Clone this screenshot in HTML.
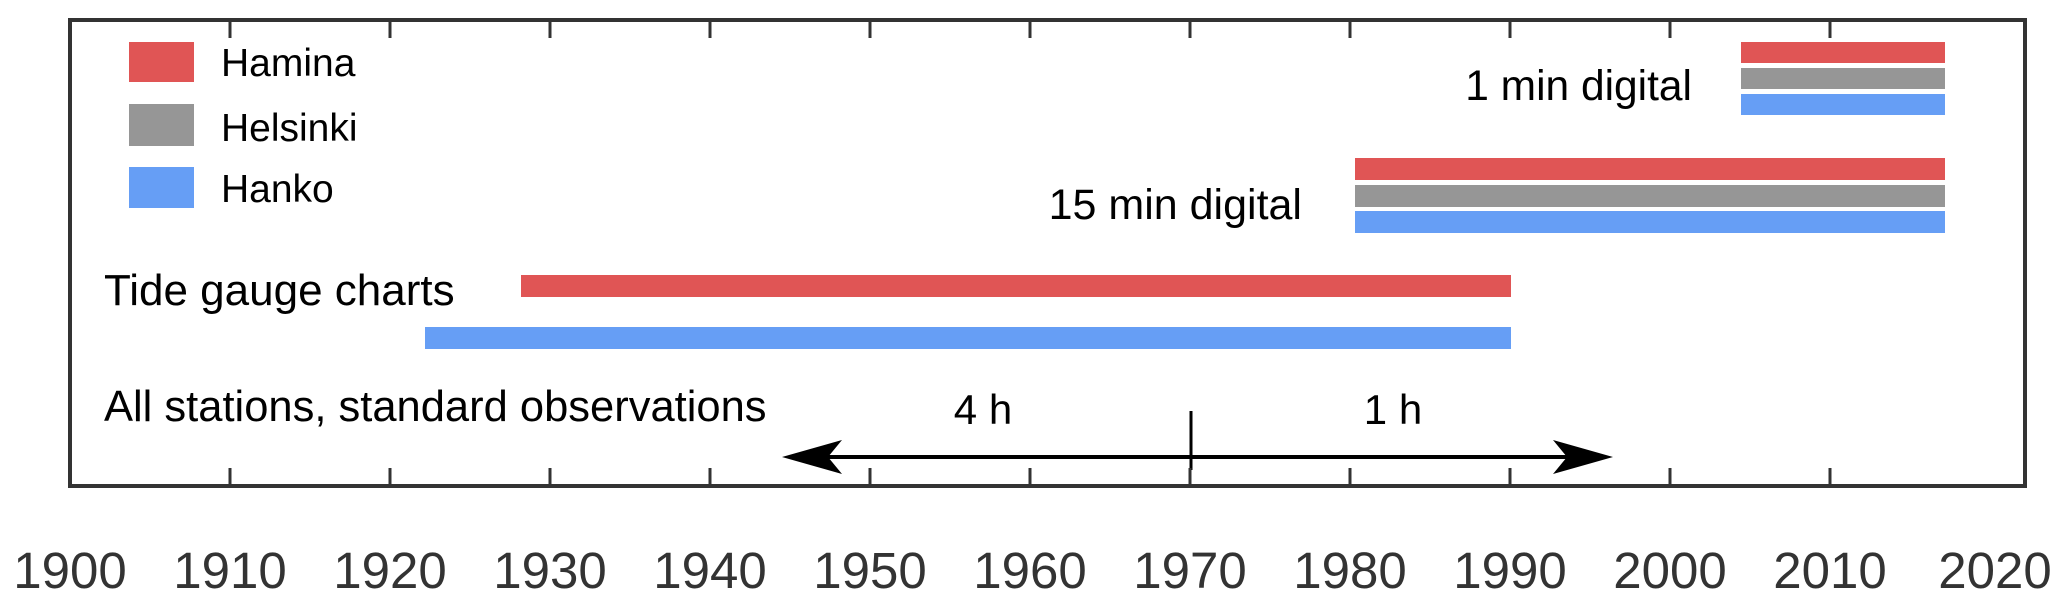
<!DOCTYPE html>
<html><head><meta charset="utf-8"><style>
html,body{margin:0;padding:0;background:#fff;}
svg{display:block;}
text{font-family:"Liberation Sans",Arial,sans-serif;}
</style></head><body>
<svg width="2067" height="595" viewBox="0 0 2067 595" xmlns="http://www.w3.org/2000/svg">
<rect x="0" y="0" width="2067" height="595" fill="#fff"/>
<g>
<rect x="129" y="42" width="65" height="40" fill="#e05555"/>
<rect x="129" y="104" width="65" height="42" fill="#969696"/>
<rect x="129" y="167" width="65" height="41" fill="#669ef5"/>
<rect x="1741" y="42" width="204" height="21" fill="#e05555"/>
<rect x="1741" y="68" width="204" height="21" fill="#969696"/>
<rect x="1741" y="94" width="204" height="21" fill="#669ef5"/>
<rect x="1355" y="158" width="590" height="22" fill="#e05555"/>
<rect x="1355" y="185" width="590" height="22" fill="#969696"/>
<rect x="1355" y="211" width="590" height="22" fill="#669ef5"/>
<rect x="521" y="275" width="990" height="22" fill="#e05555"/>
<rect x="425" y="327" width="1086" height="22" fill="#669ef5"/>
</g>
<g fill="#000">
<text x="221" y="76" font-size="39">Hamina</text>
<text x="221" y="141" font-size="39">Helsinki</text>
<text x="221" y="202" font-size="39">Hanko</text>
<text x="1692" y="100" font-size="42.5" text-anchor="end">1 min digital</text>
<text x="1302" y="219" font-size="43" text-anchor="end">15 min digital</text>
<text x="104" y="305" font-size="44">Tide gauge charts</text>
<text x="104" y="421" font-size="43.5">All stations, standard observations</text>
<text x="983" y="424" font-size="42" text-anchor="middle">4 h</text>
<text x="1393" y="424" font-size="42" text-anchor="middle">1 h</text>
</g>
<g stroke="#000" stroke-width="4" fill="none">
<line x1="790" y1="457" x2="1600" y2="457"/>
<line x1="1191" y1="411" x2="1191" y2="470" stroke-width="3"/>
</g>
<path d="M782,457 L842,440 L828,457 L842,474 Z" fill="#000"/>
<path d="M1613,457 L1553,440 L1567,457 L1553,474 Z" fill="#000"/>
<g stroke="#333" stroke-width="4" fill="none">
<rect x="70" y="20" width="1955" height="466"/>
<g stroke-width="3">
<line x1="230" y1="20" x2="230" y2="38"/><line x1="230" y1="486" x2="230" y2="468"/>
<line x1="390" y1="20" x2="390" y2="38"/><line x1="390" y1="486" x2="390" y2="468"/>
<line x1="550" y1="20" x2="550" y2="38"/><line x1="550" y1="486" x2="550" y2="468"/>
<line x1="710" y1="20" x2="710" y2="38"/><line x1="710" y1="486" x2="710" y2="468"/>
<line x1="870" y1="20" x2="870" y2="38"/><line x1="870" y1="486" x2="870" y2="468"/>
<line x1="1030" y1="20" x2="1030" y2="38"/><line x1="1030" y1="486" x2="1030" y2="468"/>
<line x1="1190" y1="20" x2="1190" y2="38"/><line x1="1190" y1="486" x2="1190" y2="468"/>
<line x1="1350" y1="20" x2="1350" y2="38"/><line x1="1350" y1="486" x2="1350" y2="468"/>
<line x1="1510" y1="20" x2="1510" y2="38"/><line x1="1510" y1="486" x2="1510" y2="468"/>
<line x1="1670" y1="20" x2="1670" y2="38"/><line x1="1670" y1="486" x2="1670" y2="468"/>
<line x1="1830" y1="20" x2="1830" y2="38"/><line x1="1830" y1="486" x2="1830" y2="468"/>
</g>
</g>
<g fill="#333" font-size="51" text-anchor="middle">
<text x="70" y="588">1900</text>
<text x="230" y="588">1910</text>
<text x="390" y="588">1920</text>
<text x="550" y="588">1930</text>
<text x="710" y="588">1940</text>
<text x="870" y="588">1950</text>
<text x="1030" y="588">1960</text>
<text x="1190" y="588">1970</text>
<text x="1350" y="588">1980</text>
<text x="1510" y="588">1990</text>
<text x="1670" y="588">2000</text>
<text x="1830" y="588">2010</text>
<text x="1995" y="588">2020</text>
</g>
</svg>
</body></html>
